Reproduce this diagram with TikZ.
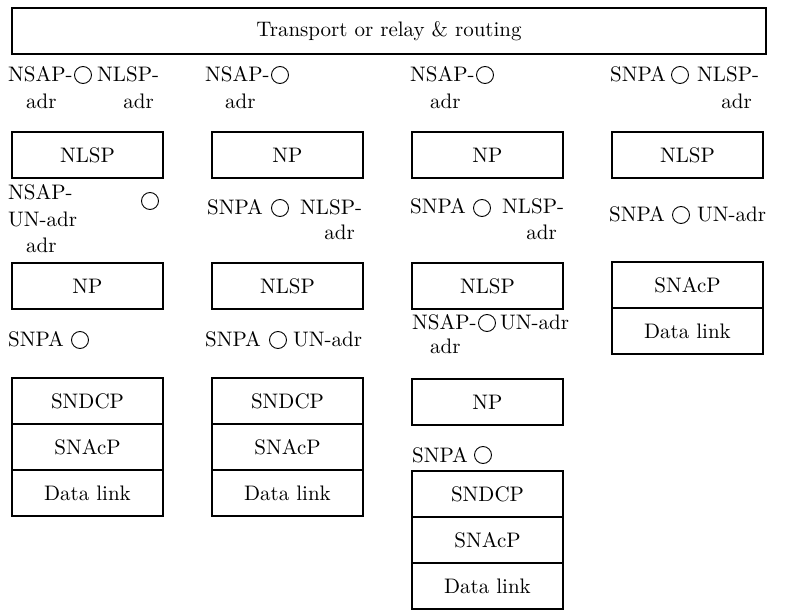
\documentclass[tikz,border=0pt]{standalone}
\usepackage{fontspec}
% the 10pt design of Latin Modern at every size (heavier, wider glyphs)
\setmainfont{lmroman10-regular.otf}
\begin{document}
\begin{tikzpicture}[x=1pt,y=-1pt,
  font=\fontsize{21}{25}\selectfont,
  layerbox/.style={draw, line width=1.2pt, minimum width=151pt, minimum height=46pt,
    inner sep=0pt, anchor=center},
  lbl/.style={anchor=base west, inner sep=0pt},
  lblr/.style={anchor=base east, inner sep=0pt},
  sap/.style={draw, circle, line width=0.9pt, minimum size=17pt, inner sep=0pt}]
\useasboundingbox (0,0) rectangle (790,612);

% top layer spanning all four columns
\node[layerbox, minimum width=754pt] (trans) at (389,31) {Transport or relay \& routing};

% ---------- column 1 ----------
\node[lbl]  (c1a1) at (8,82)   {NSAP-};
\node[sap]  (c1s1) at (83,75)  {};
\node[lbl]  (c1a2) at (97,82)  {NLSP-};
\node[lblr] (c1a4) at (154,109) {adr};
\node[lbl]  (c1a3) at (26,109) {adr};
\node[layerbox] (c1b1) at (87.5,155) {NLSP};
\node[lbl]  (c1b2) at (8,200)  {NSAP-};
\node[lbl]  (c1b3) at (8,227)  {UN-adr};
\node[lbl]  (c1b4) at (26,253) {adr};
\node[sap]  (c1s2) at (150,201) {};
\node[layerbox] (c1b5) at (87.5,286) {NP};
\node[lbl]  (c1c1) at (8,347)  {SNPA};
\node[sap]  (c1s3) at (80,340) {};
\node[layerbox] (c1d1) at (87.5,401) {SNDCP};
\node[layerbox] (c1d2) at (87.5,447) {SNAcP};
\node[layerbox] (c1d3) at (87.5,493) {Data link};

% ---------- column 2 ----------
\node[lbl]  (c2a1) at (205,82)  {NSAP-};
\node[sap]  (c2s1) at (280,75)  {};
\node[lbl]  (c2a2) at (225,109) {adr};
\node[layerbox] (c2b1) at (287.5,155) {NP};
\node[lbl]  (c2b2) at (207,215) {SNPA};
\node[sap]  (c2s2) at (280,208) {};
\node[lbl]  (c2b3) at (300,215) {NLSP-};
\node[lblr] (c2b4) at (355,240) {adr};
\node[layerbox] (c2b5) at (287.5,286) {NLSP};
\node[lbl]  (c2c1) at (205,347) {SNPA};
\node[sap]  (c2s3) at (278,340) {};
\node[lbl]  (c2c2) at (293,347) {UN-adr};
\node[layerbox] (c2d1) at (287.5,401) {SNDCP};
\node[layerbox] (c2d2) at (287.5,447) {SNAcP};
\node[layerbox] (c2d3) at (287.5,493) {Data link};

% ---------- column 3 ----------
\node[lbl]  (c3a1) at (410,82)  {NSAP-};
\node[sap]  (c3s1) at (485,75)  {};
\node[lbl]  (c3a2) at (430,109) {adr};
\node[layerbox] (c3b1) at (487.5,155) {NP};
\node[lbl]  (c3b2) at (410,214) {SNPA};
\node[sap]  (c3s2) at (482,208) {};
\node[lbl]  (c3b3) at (502,214) {NLSP-};
\node[lblr] (c3b4) at (557,240) {adr};
\node[layerbox] (c3b5) at (487.5,286) {NLSP};
\node[lbl]  (c3c1) at (412,330) {NSAP-};
\node[sap]  (c3s3) at (487,323) {};
\node[lbl]  (c3c2) at (500,330) {UN-adr};
\node[lbl]  (c3c3) at (430,353) {adr};
\node[layerbox] (c3c4) at (487.5,402) {NP};
\node[lbl]  (c3e1) at (412,462) {SNPA};
\node[sap]  (c3s4) at (483,455) {};
\node[layerbox] (c3f1) at (487.5,494) {SNDCP};
\node[layerbox] (c3f2) at (487.5,540) {SNAcP};
\node[layerbox] (c3f3) at (487.5,586) {Data link};

% ---------- column 4 ----------
\node[lbl]  (c4a1) at (610,82)  {SNPA};
\node[sap]  (c4s1) at (680,75)  {};
\node[lbl]  (c4a2) at (697,82)  {NLSP-};
\node[lblr] (c4a3) at (752,109) {adr};
\node[layerbox] (c4b1) at (687.5,155) {NLSP};
\node[lbl]  (c4b2) at (609,222) {SNPA};
\node[sap]  (c4s2) at (681,215) {};
\node[lbl]  (c4b3) at (697,222) {UN-adr};
\node[layerbox] (c4c1) at (687.5,285) {SNAcP};
\node[layerbox] (c4c2) at (687.5,331) {Data link};
\end{tikzpicture}
\end{document}
